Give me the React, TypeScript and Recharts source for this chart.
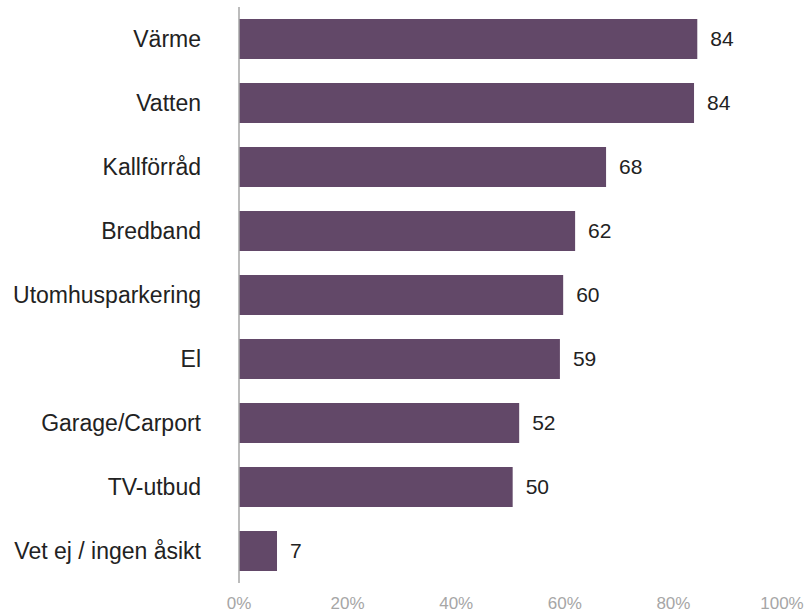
import { Bar, BarChart, LabelList, XAxis, YAxis } from "recharts";

const categories = [
  "Värme",
  "Vatten",
  "Kallförråd",
  "Bredband",
  "Utomhusparkering",
  "El",
  "Garage/Carport",
  "TV-utbud",
  "Vet ej / ingen åsikt",
];
const values = [84.4, 83.8, 67.6, 61.9, 59.7, 59.1, 51.6, 50.4, 7.0];
const xTicks = [0, 20, 40, 60, 80, 100];

const data = categories.map((name, i) => ({ name, value: values[i] }));

const FONT = "'Liberation Sans', Arial, sans-serif";

export default function App() {
  return (
    <div style={{ position: "absolute", left: 0, top: 0, background: "#fff" }}>
      <BarChart
        width={805}
        height={612}
        data={data}
        layout="vertical"
        margin={{ top: 7, right: 23, left: 0, bottom: 0 }}
        barSize={40}
      >
        <XAxis
          type="number"
          domain={[0, 100]}
          ticks={xTicks}
          tickFormatter={(v: number) => `${v}%`}
          axisLine={false}
          tickLine={false}
          height={29}
          tickMargin={8}
          interval={0}
          tick={{ fill: "#a6a6a6", fontSize: 17, fontFamily: FONT }}
        />
        <YAxis
          type="category"
          dataKey="name"
          width={239}
          tickLine={false}
          tickSize={0}
          tickMargin={38}
          axisLine={{ stroke: "#a6a6a6", strokeWidth: 1.5 }}
          interval={0}
          tick={{ fill: "#222", fontSize: 23, fontFamily: FONT }}
        />
        <Bar dataKey="value" fill="#624868" isAnimationActive={false}>
          <LabelList
            dataKey="value"
            position="right"
            offset={13}
            formatter={(v: number) => Math.round(v)}
            style={{ fill: "#222", fontSize: 21, fontFamily: FONT }}
          />
        </Bar>
      </BarChart>
    </div>
  );
}
